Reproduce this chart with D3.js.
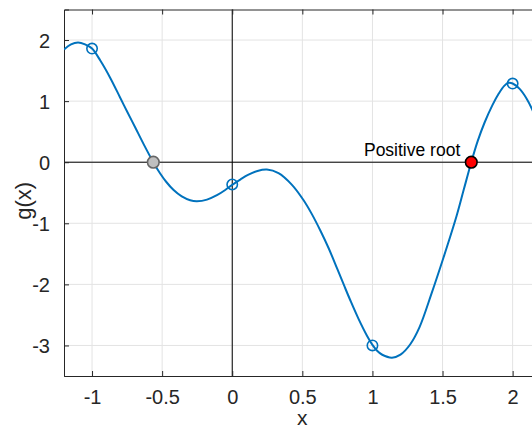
<!DOCTYPE html>
<html>
<head>
<meta charset="utf-8">
<script src="https://cdn.jsdelivr.net/npm/d3@7"></script>
<style>
  html, body { margin: 0; padding: 0; background: #fff; overflow: hidden; }
  svg { display: block; font-family: "Liberation Sans", Arial, Helvetica, sans-serif; }
</style>
</head>
<body>
<svg id="chart" width="532" height="430"></svg>
<script>
// ---- data ----
const curveX = [-1.2, -1.15, -1.1, -1.05, -1.0, -0.94, -0.87, -0.8, -0.75, -0.69, -0.633, -0.563, -0.514, -0.47, -0.42, -0.36, -0.30, -0.252, -0.18, -0.109, -0.05, 0.0, 0.06, 0.116, 0.18, 0.247, 0.33, 0.426, 0.509, 0.568, 0.63, 0.687, 0.75, 0.8, 0.842, 0.9, 0.961, 1.0, 1.035, 1.07, 1.139, 1.20, 1.27, 1.336, 1.42, 1.507, 1.60, 1.65, 1.705, 1.75, 1.80, 1.855, 1.90, 1.94, 1.971, 2.0, 2.05, 2.10, 2.14, 2.2];
const curveG = [1.845, 1.93, 1.96, 1.93, 1.861, 1.66, 1.38, 1.06, 0.83, 0.56, 0.30, 0.0, -0.185, -0.324, -0.452, -0.561, -0.623, -0.638, -0.612, -0.54, -0.455, -0.37, -0.28, -0.205, -0.143, -0.12, -0.178, -0.37, -0.623, -0.85, -1.126, -1.405, -1.75, -2.03, -2.26, -2.56, -2.84, -2.99, -3.09, -3.152, -3.20, -3.15, -2.98, -2.70, -2.16, -1.56, -0.88, -0.46, 0.0, 0.34, 0.65, 0.93, 1.12, 1.25, 1.30, 1.288, 1.20, 1.04, 0.86, 0.5];
const sampleX = [-1, 0, 1, 2];
const sampleG = [1.861, -0.365, -3.0, 1.288];
const negRoot = [-0.563, 0];
const posRoot = [1.705, 0];
const posRootLabel = "Positive root";
const xTicks = [-1, -0.5, 0, 0.5, 1, 1.5, 2];
const yTicks = [-3, -2, -1, 0, 1, 2];
const xDomain = [-1.2, 2.2];
const yDomain = [-3.5, 2.5];
const xLabel = "x";
const yLabel = "g(x)";

// ---- layout ----
const svg = d3.select("#chart");
const pLeft = 64, pTop = 9.5, pBottom = 376;
const pxPerX = 140.2;
const pRight = pLeft + (xDomain[1] - xDomain[0]) * pxPerX;
const x = d3.scaleLinear().domain(xDomain).range([pLeft, pRight]);
const y = d3.scaleLinear().domain(yDomain).range([pBottom, pTop]);
const axisColor = "#262626";
const gridColor = "#e3e3e3";
const tickFont = 20;

const defs = svg.append("defs");
defs.append("clipPath").attr("id", "plotclip")
  .append("rect").attr("x", pLeft).attr("y", pTop).attr("width", pRight - pLeft).attr("height", pBottom - pTop);

// grid
const grid = svg.append("g");
grid.selectAll("line.gx").data(xTicks).join("line")
  .attr("class", "gx")
  .attr("x1", d => x(d)).attr("x2", d => x(d)).attr("y1", pTop).attr("y2", pBottom)
  .attr("stroke", gridColor).attr("stroke-width", 1);
grid.selectAll("line.gy").data(yTicks).join("line")
  .attr("class", "gy")
  .attr("x1", pLeft).attr("x2", pRight).attr("y1", d => y(d)).attr("y2", d => y(d))
  .attr("stroke", gridColor).attr("stroke-width", 1);

// zero lines
svg.append("line").attr("x1", pLeft).attr("x2", pRight).attr("y1", y(0)).attr("y2", y(0))
  .attr("stroke", "#000").attr("stroke-width", 1);
svg.append("line").attr("x1", x(0)).attr("x2", x(0)).attr("y1", pTop).attr("y2", pBottom)
  .attr("stroke", "#000").attr("stroke-width", 1);

// axes (ticks inward)
const tickLen = 5;
const xAxisB = d3.axisBottom(x).tickValues(xTicks).tickSize(-tickLen).tickPadding(14).tickFormat(d => String(d));
const gxB = svg.append("g").attr("transform", `translate(0,${pBottom})`).call(xAxisB);
const xAxisT = d3.axisTop(x).tickValues(xTicks).tickSize(-tickLen).tickFormat("");
const gxT = svg.append("g").attr("transform", `translate(0,${pTop})`).call(xAxisT);
const yAxisL = d3.axisLeft(y).tickValues(yTicks).tickSize(-tickLen).tickPadding(14).tickFormat(d => String(d));
const gyL = svg.append("g").attr("transform", `translate(${pLeft},0)`).call(yAxisL);
[gxB, gxT, gyL].forEach(g => {
  g.select(".domain").attr("stroke", axisColor).attr("stroke-width", 1);
  g.selectAll(".tick line").attr("stroke", axisColor).attr("stroke-width", 1);
  g.selectAll(".tick text").attr("fill", axisColor).attr("font-size", tickFont)
    .attr("font-family", "Liberation Sans, Arial, sans-serif");
});
gyL.selectAll(".tick text").attr("dy", "0.36em");

// curve
const line = d3.line().x((d, i) => x(curveX[i])).y(d => y(d)).curve(d3.curveCatmullRom.alpha(0.5));
svg.append("path").datum(curveG).attr("d", line)
  .attr("clip-path", "url(#plotclip)")
  .attr("fill", "none").attr("stroke", "#0072BD").attr("stroke-width", 2);

// sample markers
svg.selectAll("circle.sample").data(sampleX).join("circle")
  .attr("class", "sample")
  .attr("cx", d => x(d)).attr("cy", (d, i) => y(sampleG[i])).attr("r", 5.2)
  .attr("fill", "none").attr("stroke", "#0072BD").attr("stroke-width", 1.6);

// roots
svg.append("circle").attr("cx", x(negRoot[0])).attr("cy", y(negRoot[1])).attr("r", 5.8)
  .attr("fill", "#bfbfbf").attr("stroke", "#666666").attr("stroke-width", 1.6);
svg.append("circle").attr("cx", x(posRoot[0])).attr("cy", y(posRoot[1])).attr("r", 5.8)
  .attr("fill", "#ff0000").attr("stroke", "#000").attr("stroke-width", 1.6);

svg.append("text").attr("x", x(posRoot[0]) - 11).attr("y", y(posRoot[1]) - 6)
  .attr("text-anchor", "end").attr("font-size", 17.5).attr("fill", "#000")
  .text(posRootLabel);

// axis labels
svg.append("text").attr("x", x(0.5)).attr("y", 425).attr("text-anchor", "middle")
  .attr("font-size", 21).attr("fill", axisColor).text(xLabel);
svg.append("text").attr("transform", `translate(31,${(pTop + pBottom) / 2 + 8}) rotate(-90)`)
  .attr("text-anchor", "middle").attr("font-size", 22).attr("fill", axisColor).text(yLabel);
</script>
</body>
</html>
